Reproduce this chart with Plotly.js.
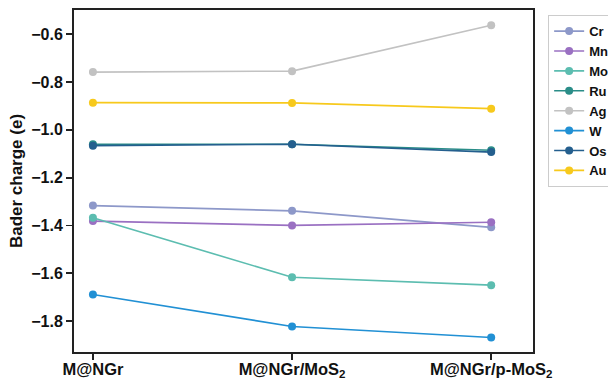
<!DOCTYPE html>
<html>
<head>
<meta charset="utf-8">
<script src="https://cdn.plot.ly/plotly-3.0.1.min.js"></script>
<style>html,body{margin:0;padding:0;background:#fff;}#chart{width:608px;height:383px;}</style>
</head>
<body>
<div id="chart"></div>
<script>
const categories = ["M@NGr", "M@NGr/MoS<sub>2</sub>", "M@NGr/p-MoS<sub>2</sub>"];
const Cr = [-1.317, -1.339, -1.408];
const Mn = [-1.382, -1.400, -1.387];
const Mo = [-1.368, -1.617, -1.650];
const Ru = [-1.060, -1.060, -1.085];
const Ag = [-0.758, -0.754, -0.562];
const W  = [-1.689, -1.823, -1.869];
const Os = [-1.066, -1.060, -1.093];
const Au = [-0.886, -0.887, -0.911];
const seriesNames = ["Cr", "Mn", "Mo", "Ru", "Ag", "W", "Os", "Au"];
const seriesValues = [Cr, Mn, Mo, Ru, Ag, W, Os, Au];
const colors = ["#8d98c9", "#9a70c2", "#5cbdb0", "#2a8d88", "#c2c2c2", "#2190d4", "#245f8e", "#f7c91c"];

const traces = seriesNames.map((n, i) => ({
  x: [0, 1, 2],
  y: seriesValues[i],
  name: n,
  type: "scatter",
  mode: "lines+markers",
  line: {color: colors[i], width: 1.6},
  marker: {color: colors[i], size: 8}
}));

const font = {family: "Liberation Sans, Arial, sans-serif", color: "#111"};
const layout = {
  width: 608, height: 383,
  margin: {l: 74, r: 75, t: 9.5, b: 31, autoexpand: false},
  paper_bgcolor: "#fff", plot_bgcolor: "#fff",
  font: font,
  showlegend: true,
  legend: {
    x: 1.033, y: 0.985, xanchor: "left", yanchor: "top",
    bordercolor: "#cccccc", borderwidth: 1,
    font: {family: font.family, size: 13, color: "#111", weight: "bold"},
    tracegroupgap: 0, itemwidth: 30
  },
  xaxis: {
    range: [-0.095, 2.21],
    tickmode: "array", tickvals: [0, 1, 2], ticktext: categories,
    ticks: "outside", ticklen: 6, tickwidth: 1.8, tickcolor: "#222",
    ticklabelstandoff: -5,
    showline: true, linecolor: "#222", linewidth: 2, mirror: true,
    showgrid: false, zeroline: false,
    tickfont: {family: font.family, size: 16.5, color: "#111", weight: "bold"}
  },
  yaxis: {
    range: [-1.93, -0.498],
    tickmode: "array", tickvals: [-1.8, -1.6, -1.4, -1.2, -1.0, -0.8, -0.6],
    ticktext: ["−1.8", "−1.6", "−1.4", "−1.2", "−1.0", "−0.8", "−0.6"],
    ticks: "outside", ticklen: 6, tickwidth: 1.8, tickcolor: "#222",
    showline: true, linecolor: "#222", linewidth: 2, mirror: true,
    showgrid: false, zeroline: false,
    tickfont: {family: font.family, size: 16, color: "#111", weight: "bold"},
    title: {text: "Bader charge (e)", font: {family: font.family, size: 17, color: "#111", weight: "bold"}, standoff: 4}
  }
};
Plotly.newPlot("chart", traces, layout, {displayModeBar: false, staticPlot: true});
</script>
</body>
</html>
